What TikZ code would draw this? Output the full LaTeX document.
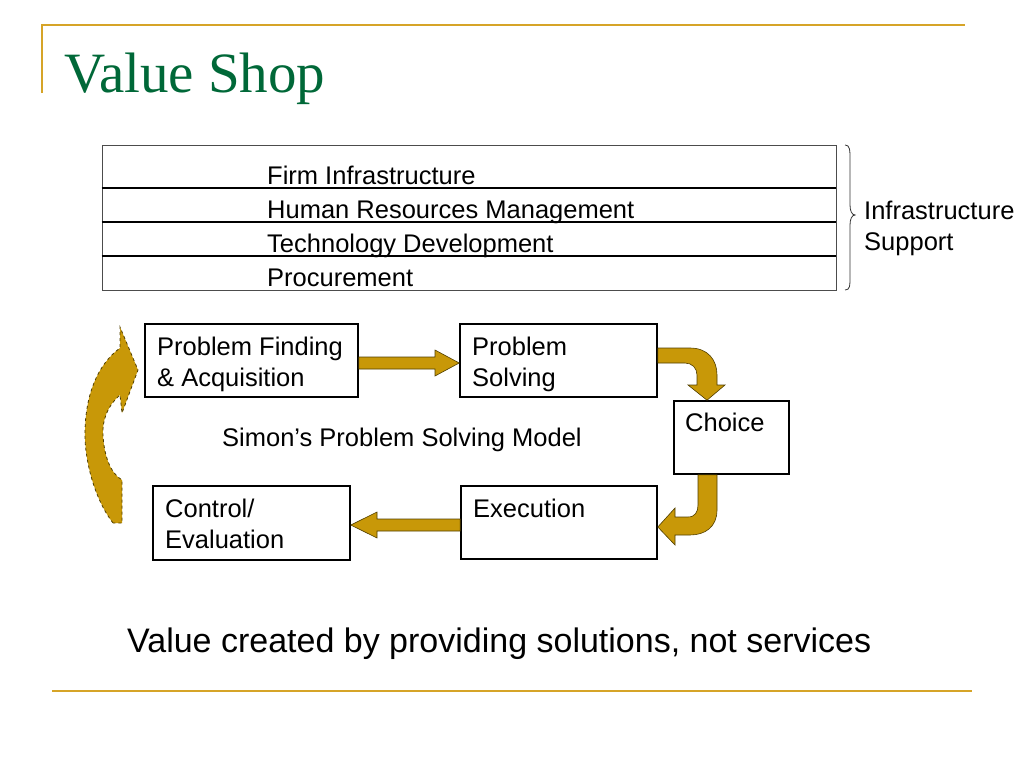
\documentclass[tikz,border=0pt]{standalone}
\usepackage{fontspec}
\setmainfont{Liberation Serif}
\setsansfont{Liberation Sans}
\usetikzlibrary{calc}
\definecolor{gold}{RGB}{214,164,40}
\definecolor{arrowgold}{RGB}{200,152,8}
\definecolor{arrowedge}{RGB}{80,62,0}
\definecolor{titlegreen}{RGB}{0,104,56}
\tikzset{
  box/.style={draw=black, line width=1.6pt, fill=white, inner sep=0pt},
  txt/.style={anchor=base west, inner sep=0pt, font=\sffamily\fontsize{25.5}{31}\selectfont, text=black},
  blockarrow/.style={fill=arrowgold, draw=arrowedge, line width=0.6pt, line join=miter},
  goldline/.style={draw=gold, line width=2.2pt},
}
\begin{document}
\begin{tikzpicture}[x=1pt,y=-1pt]
\useasboundingbox (0,0) rectangle (1024,768);
% frame lines
\draw[goldline] (42,93) -- (42,25) -- (965,25);
\draw[goldline] (52,691) -- (972,691);
% title
\node[anchor=base west, inner sep=0pt, text=titlegreen, font=\rmfamily\fontsize{57}{60}\selectfont] (title) at (64,92) {Value Shop};
% table
\node[draw=black!70, line width=0.8pt, minimum width=734pt, minimum height=145pt, inner sep=0pt] (tbl) at (469,217.5) {};
\draw[line width=1.8pt] (tbl.west |- 0,188) -- (tbl.east |- 0,188);
\draw[line width=1.8pt] (tbl.west |- 0,222) -- (tbl.east |- 0,222);
\draw[line width=1.8pt] (tbl.west |- 0,256) -- (tbl.east |- 0,256);
\node[txt] (r1) at (267,184) {Firm Infrastructure};
\node[txt] (r2) at (267,218) {Human Resources Management};
\node[txt] (r3) at (267,252) {Technology Development};
\node[txt] (r4) at (267,286) {Procurement};
% brace
\draw[line width=0.8pt, black!80] (845,145) .. controls (850,145) and (850,150) .. (850,160) -- (850,205)
  .. controls (850,211) and (852,215) .. (855,215) .. controls (852,215) and (850,219) .. (850,225)
  -- (850,276) .. controls (850,286) and (850,290) .. (845,290);
\node[txt] (infra1) at (864,219) {Infrastructure};
\node[txt] (infra2) at (864,250) {Support};
% flow boxes
\node[box, minimum width=213pt, minimum height=73pt] (pf) at (251.5,360.5) {};
\node[box, minimum width=197pt, minimum height=73pt] (ps) at (558.5,360.5) {};
\node[box, minimum width=115pt, minimum height=73pt] (ch) at (731.5,437.5) {};
\node[box, minimum width=196pt, minimum height=73pt] (ex) at (559,522.5) {};
\node[box, minimum width=197pt, minimum height=74pt] (ce) at (251.5,523) {};
\node[txt] at (157,355) {Problem Finding};
\node[txt] at (157,386) {\& Acquisition};
\node[txt] at (472,355) {Problem};
\node[txt] at (472,386) {Solving};
\node[txt] at (685,431) {Choice};
\node[txt] at (473,517) {Execution};
\node[txt] at (165,517) {Control/};
\node[txt] at (165,548) {Evaluation};
\node[txt] (model) at (222,446) {Simon’s Problem Solving Model};
% straight arrows
\draw[blockarrow] (pf.east |- 0,357) -- (435,357) -- (435,350) -- (ps.west |- 0,363) -- (435,376) -- (435,369) -- (pf.east |- 0,369) -- cycle;
\draw[blockarrow] (ex.west |- 0,519) -- (377,519) -- (377,512) -- (ce.east |- 0,525) -- (377,538) -- (377,531) -- (ex.west |- 0,531) -- cycle;
% curved arrows
\draw[blockarrow] (ps.east |- 0,348) -- (690,348) .. controls (708,348) and (717,360) .. (717,375) -- (717,385) -- (725,385)
  -- (ch.north -| 707,0) -- (688,385) -- (697,385) -- (697,375) .. controls (697,368) and (692,363) .. (685,363) -- (ps.east |- 0,363) -- cycle;
\draw[blockarrow] (ch.south -| 698,0) -- (ch.south -| 717,0) -- (717,510) .. controls (717,527) and (705,535) .. (690,535) -- (675,535) -- (675,545)
  -- (ex.east |- 0,527) -- (675,508) -- (675,517) -- (688,517) .. controls (695,517) and (698,512) .. (698,505) -- cycle;
% big return arrow
\coordinate (rtip) at (138,370);
\draw[blockarrow, dashed, line width=0.8pt] (113,523) .. controls (95,500) and (84,460) .. (85,430)
  .. controls (86,395) and (97,365) .. (120,348) -- (120,327) -- (rtip) -- (122,413) -- (120,395)
  .. controls (108,405) and (102,420) .. (103,435) .. controls (104,455) and (110,473) .. (122,480)
  -- (122,523) -- cycle;
% bottom statement
\node[anchor=base west, inner sep=0pt, font=\sffamily\fontsize{34}{40}\selectfont] (stmt) at (127,652) {Value created by providing solutions, not services};
\end{tikzpicture}
\end{document}
